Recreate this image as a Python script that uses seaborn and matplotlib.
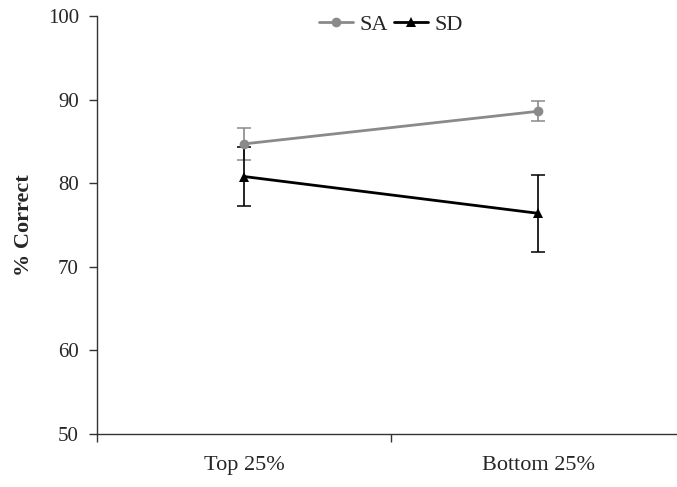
import numpy as np
import pandas as pd
import matplotlib
matplotlib.use('Agg')
import matplotlib.pyplot as plt
import seaborn as sns

groups = ["Top 25%", "Bottom 25%"]
sa_mean = [84.7, 88.6]
sa_err = [1.9, 1.2]
sd_mean = [80.8, 76.4]
sd_err = [3.5, 4.6]

df = pd.DataFrame({
    "group": groups * 2,
    "cond": ["SA"] * 2 + ["SD"] * 2,
    "pct": sa_mean + sd_mean,
    "err": sa_err + sd_err,
})

sns.set_style("ticks")
plt.rcParams['font.family'] = ['Liberation Serif', 'DejaVu Serif']

fig = plt.figure(figsize=(6.77, 4.87), dpi=100)
ax = fig.add_axes([97 / 677, 53 / 487, 588 / 677, 418 / 487])

colors = {"SA": "#8a8a8a", "SD": "black"}
sns.lineplot(data=df, x="group", y="pct", hue="cond", style="cond",
             markers={"SA": "o", "SD": "^"}, dashes=False, palette=colors,
             markersize=7, linewidth=2, markeredgewidth=0, ax=ax, sort=False)

xpos = np.arange(len(groups))
for cond, mean, err in [("SA", sa_mean, sa_err), ("SD", sd_mean, sd_err)]:
    ax.errorbar(xpos, mean, yerr=err, fmt='none', ecolor=colors[cond],
                elinewidth=1.2, capsize=5, capthick=1.1, zorder=1)

ax.set_xlim(-0.5, 1.5)
ax.set_ylim(50, 100)
ax.set_yticks(range(50, 101, 10))
ax.set_xticks(xpos)
ax.set_xticklabels(groups)
ax.set_xticks([-0.5, 0.5, 1.5], minor=True)
ax.tick_params(axis='x', which='major', length=0, pad=16, labelsize=16)
ax.tick_params(axis='x', which='minor', length=6, width=1, color='#333333')
ax.tick_params(axis='y', length=6, width=1, color='#333333', labelsize=15, pad=7)

for side in ['top', 'right']:
    ax.spines[side].set_visible(False)
for side in ['left', 'bottom']:
    ax.spines[side].set_color('#333333')
    ax.spines[side].set_linewidth(1)

ax.set_xlabel("")
ax.set_ylabel("% Correct", fontsize=16, fontweight='bold', labelpad=10)

leg = ax.legend(loc='upper center', bbox_to_anchor=(0.5, 1.026), ncol=2,
                frameon=False, fontsize=16, handlelength=1.5, columnspacing=0.3,
                handletextpad=0.3, borderaxespad=0)

fig.savefig("out.png", dpi=100)
